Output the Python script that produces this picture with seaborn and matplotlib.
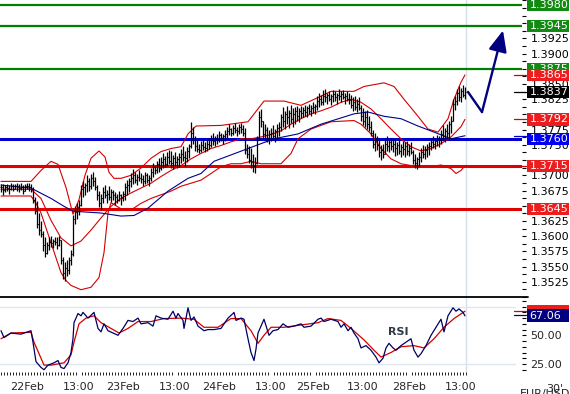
import numpy as np
import matplotlib
matplotlib.use("Agg")
import matplotlib.pyplot as plt
import seaborn as sns
from matplotlib.transforms import blended_transform_factory
from matplotlib.patches import Rectangle
from matplotlib.lines import Line2D

sns.set_theme(style="white")
plt.rcParams["font.family"] = ["DejaVu Sans"]

# ---------------- data (30-minute EUR/USD bars, values in pips above 1.3000) ----------------
bar_high = [686,685,684,686,684,687,685,686,688,685,687,684,686,688,687,686,
            680,664,658,638,625,608,598,590,
            598,600,596,599,598,600,
            594,565,558,560,566,578,
            634,650,655,660,
            684,690,688,700,696,702,706,698,
            684,675,670,
            680,684,676,682,678,676,
            672,670,674,670,675,
            688,692,696,
            704,710,706,702,708,704,700,706,703,700,
            712,720,716,724,728,
            730,736,732,738,742,740,734,738,732,736,
            744,748,740,746,752,
            788,780,
            764,758,752,756,760,754,758,762,
            766,770,764,768,772,770,768,774,
            780,784,778,782,786,780,784,786,782,
            778,752,748,745,735,730,
            765,805,809,
            790,785,780,775,778,782,776,785,788,
            800,812,806,814,808,815,810,812,814,810,
            814,812,816,814,818,815,820,818,
            830,836,832,840,842,835,838,834,840,838,836,842,838,840,836,838,835,
            832,828,830,825,828,
            815,810,805,808,798,790,
            775,770,765,760,750,752,
            760,764,758,762,760,
            758,755,758,752,756,754,756,752,755,
            742,735,730,738,
            745,750,748,752,755,
            762,765,760,766,764,
            775,782,778,784,
            790,798,
            825,830,
            842,846,844,848,845]
bar_low = [672,668,673,675,670,676,674,677,675,673,676,669,674,677,675,673,
           655,636,613,602,598,575,565,570,
           578,582,580,585,579,583,
           555,530,527,535,538,552,
           568,620,628,635,
           650,665,668,672,675,678,682,676,
           660,648,643,
           655,662,655,660,656,660,
           652,655,658,652,657,
           660,668,672,
           680,685,688,684,690,688,682,686,688,683,
           690,698,702,704,706,
           708,712,714,716,718,712,710,716,712,714,
           720,724,715,722,728,
           745,752,
           740,738,736,738,742,738,740,744,
           746,750,748,752,754,756,752,756,
           762,766,764,766,770,764,768,770,764,
           735,728,720,712,705,703,
           718,760,780,
           760,758,755,752,756,758,754,760,764,
           772,780,776,784,778,786,780,785,790,788,
           794,795,797,795,800,798,802,800,
           808,812,815,816,820,818,822,815,820,822,818,824,820,825,818,822,818,
           810,806,808,804,808,
           790,782,780,776,772,764,
           745,740,742,730,725,728,
           735,740,738,742,738,
           732,734,735,730,734,730,733,732,735,
           718,712,710,716,
           722,728,726,730,734,
           742,745,744,748,746,
           752,758,755,760,
           758,770,
           790,808,
           815,822,820,828,826]
bar_close = [680,676,681,679,677,682,678,683,680,679,681,675,682,683,680,678,
             660,642,620,610,604,585,572,585,
             590,588,592,590,586,594,
             560,540,548,545,560,570,
             628,640,648,652,
             678,680,684,690,682,695,690,680,
             668,655,662,
             672,668,670,664,673,668,
             665,660,668,662,670,
             680,684,690,
             695,700,692,698,696,694,690,700,692,696,
             706,714,708,718,712,
             722,726,718,730,724,720,728,722,726,730,
             735,730,728,740,748,
             770,758,
             748,744,742,750,746,745,752,750,
             758,756,760,758,766,762,764,768,
             772,776,770,778,774,772,780,776,770,
             742,735,725,722,715,720,
             758,795,790,
             768,775,762,768,770,765,772,778,780,
             795,790,800,795,802,792,800,805,798,806,
             802,808,804,810,806,810,812,814,
             822,826,820,830,828,832,826,830,834,828,832,830,834,828,830,826,824,
             815,820,812,818,810,
             798,790,795,784,780,770,
             752,758,750,738,742,735,
             752,748,755,748,752,
             745,750,740,746,744,748,740,745,738,
             725,720,726,730,
             738,735,742,746,748,
             755,752,756,760,758,
             768,765,772,770,
             785,790,
             818,822,
             835,828,838,832,837]

# Bollinger bands (upper / middle / lower) and slow moving average, read at bar positions
ub_x = [0,15,20,25,28.5,32.5,36,39,42,45,49,52,54,56.5,60,65,70,75,80,85,90,93.5,97.5,110,123.5,
        131.5,141.5,150,160,165,176.5,181.5,191.5,196.5,201.5,208.5,213.5,218.5,223.5,226.5,230,232]
ub_v = [690,690,708,723,718,680,636,660,700,728,740,730,705,695,695,700,712,728,739,744,747,768,781,782,788,
        822,822,815,830,838,838,846,852,846,825,797,776,771,793,825,853,865]
mb_x = [0,15,20,25,30,35,40,45,50,55,60,65,70,75,80,85,90,95,100,105,110,115,120,125,130,135,
        140,145,150,155,160,165,170,175,180,185,190,195,200,205,210,215,220,225,230,232]
mb_v = [677,677,662,626,597,584,592,610,630,649,662,671,679,687,698,708,716,727,736,744,749,755,760,760,763,767,
        773,784,793,801,806,812,820,825,820,809,793,776,760,747,740,744,752,763,780,792]
lb_x = [0,15,17.5,20,25,30,32.5,35,40,45,49,51.5,53.5,55,60,65,70,75,80,85,90,95,100,105,110,115,
        120,125,130,135,140,145,148.5,155,165,176.5,180,185,190,195,200,205,210,215,220,225,227.5,230,232]
lb_v = [666,666,654,638,589,540,527,519,512,516,532,573,638,655,645,643,654,662,668,674,682,687,692,703,714,719,
        719,723,719,719,719,736,760,776,788,790,784,768,744,727,719,716,714,714,717,711,703,708,716]
ma_x = [0,15,25,31.5,36,50,60,66.5,73.5,83.5,93.5,100,106.5,123.5,136.5,148.5,160,176.5,183.5,191.5,
        200,208.5,216.5,225,232]
ma_v = [684,679,662,649,641,638,633,634,646,674,695,703,723,744,760,768,784,801,804,797,
        793,781,771,760,765]

# RSI and its moving average
rsi_x = [0,1.5,5,10,15,16,17.5,20,21.5,23.5,26.5,28.5,30,31.5,33.5,35,36,36.5,38.5,40,41,43.5,46.5,48.5,
         50,51.5,53.5,56,58.5,61,63.5,66,68.5,70,73.5,76,77.5,80,83.5,86,87.5,88.5,91,91.5,92.5,93.5,95,
         96.5,98.5,100,101.5,103.5,106.5,110,113.5,116,116.5,117.5,120,121.5,123.5,125,126.5,127.5,128.5,
         130,131.5,134,136,138.5,141,143.5,146.5,150,151.5,155,158.5,160,161.5,165,168.5,170,171.5,173.5,
         175,176.5,178.5,180,182.5,185,187.5,189,191,192.5,194,196,197.5,200,202.5,205,206.5,208.5,210,
         212.5,215,217.5,220,221.5,223.5,226,227.5,229,231,232]
rsi_v = [54,48,52,51,54,44,27,22,20,24,26,28,22,21,26,35,47,61,69,67,70,65,70,56,
         53,60,54,52,50,56,63,62,65,60,61,58,67,65,64,71,65,69,63,56,65,74,63,
         66,58,56,54,55,55,56,65,69,70,63,65,64,47,35,28,38,52,
         58,64,50,54,55,60,57,58,60,57,58,64,65,62,64,62,57,60,54,
         57,52,47,39,41,37,31,26,30,39,43,39,37,41,44,47,37,31,34,
         41,50,57,64,53,67,74,71,73,70,67]
rsima_x = [0,5,15,16.5,19,21.5,25,31.5,35,36.5,39,42.5,46.5,50,55,59,63.5,68.5,75,81.5,90,96.5,101.5,
           108.5,115,120,125,128.5,131.5,135,141.5,150,158.5,163.5,170,175,181.5,186.5,190,195,200,206.5,
           211.5,216.5,221.5,226.5,232]
rsima_v = [47,52,52.6,44,34,24,24,26,33,44,60,65,67,61,56,52,56,62,62,64.6,65,64,57,
           57,64.6,64.6,54,43,50,57,57,59,61,64.6,63,56,46,37,31,35,40,41,
           39,47,57,64.6,71]

green_levels = [1.3980, 1.3945, 1.3875]
blue_levels = [1.3760]
red_levels = [1.3715, 1.3645]

date_pos = [13, 39, 61, 87, 109, 135, 156, 181, 204, 230]
date_lbl = ["22Feb", "13:00", "23Feb", "13:00", "24Feb", "13:00", "25Feb", "13:00", "28Feb", "13:00"]

forecast_x = [233.5, 240.5, 251]
forecast_v = [1.3837, 1.3804, 1.3938]


def px(v):
    return 1.3 + np.asarray(v, dtype=float) / 1e4


# ---------------- figure ----------------
W, H = 570, 394
fig = plt.figure(figsize=(W / 100, H / 100), dpi=100)
fig.patch.set_facecolor("white")
ax = fig.add_axes([0, (H - 297) / H, 522 / W, 297 / H])
ax2 = fig.add_axes([0, (H - 372) / H, 522 / W, 75 / H])

RED = "#d40000"
NAVY = "#000080"

n = len(bar_close)
idx = np.arange(n)
hi, lo, cl = px(bar_high), px(bar_low), px(bar_close)
op = np.r_[cl[0], cl[:-1]]

# levels
for lv in green_levels:
    ax.axhline(lv, color="#008000", lw=1.6, zorder=2)
for lv in blue_levels:
    ax.axhline(lv, color="#0000cc", lw=2.2, zorder=2)
for lv in red_levels:
    ax.axhline(lv, color="#e00000", lw=2.2, zorder=2)

ax.axvline(232.5, color="#d6e0e8", lw=1, zorder=0)
ax2.axvline(232.5, color="#d6e0e8", lw=1, zorder=0)

# indicators
for xs, vs, col in [(ub_x, ub_v, RED), (mb_x, mb_v, RED), (lb_x, lb_v, RED), (ma_x, ma_v, "#00008b")]:
    sns.lineplot(x=np.asarray(xs, float), y=px(vs), ax=ax, color=col, lw=0.8,
                 estimator=None, sort=False, legend=False, zorder=3)

# OHLC bars
ax.vlines(idx, lo, hi, color="black", lw=0.9, zorder=4)
ax.hlines(op, idx - 0.7, idx, color="black", lw=0.8, zorder=4)
ax.hlines(cl, idx, idx + 0.7, color="black", lw=0.8, zorder=4)

# forecast arrow
ax.plot(forecast_x[:2], forecast_v[:2], color=NAVY, lw=1.7, solid_capstyle="round", zorder=5)
ax.annotate("", xy=(forecast_x[2], forecast_v[2]), xytext=(forecast_x[1], forecast_v[1]),
            arrowprops=dict(arrowstyle="-|>,head_length=0.8,head_width=0.35", color=NAVY, lw=1.7,
                            shrinkA=0, shrinkB=0, mutation_scale=16),
            annotation_clip=False, zorder=5)

ax.set_xlim(-0.5, 260.5)
ax.set_ylim(1.35051, 1.39881)
ax.set_xlabel("")
ax.set_ylabel("")
for s in ax.spines.values():
    s.set_visible(False)
ax.yaxis.tick_right()
maj = np.arange(1.3500, 1.3990, 0.0025)
hidden = {"1.3500", "1.3650", "1.3725", "1.3800", "1.3875", "1.3950", "1.3975"}
ax.set_yticks(maj)
ax.set_yticklabels(["" if f"{v:.4f}" in hidden else f"{v:.4f}" for v in maj])
ax.set_yticks(maj + 0.00125, minor=True)
ax.tick_params(axis="y", which="both", direction="out", length=3, width=0.8, color="black",
               labelsize=8, pad=3, labelcolor="black", right=True, left=False)
ax.tick_params(axis="x", which="both", bottom=False, labelbottom=False)

# right-margin markers for indicator ends
trp = blended_transform_factory(fig.transFigure, ax.transData)
for v, col in [(ub_v[-1], RED), (bar_close[-1], "black"), (mb_v[-1], RED), (ma_v[-1], "#0000cc"),
               (lb_v[-1], RED)]:
    ax.plot([514 / W, 526 / W], [px(v), px(v)], color=col, lw=0.9, transform=trp, clip_on=False, zorder=6)

bh = 12.5 / 6149.0
zc = [20]


def box(axis, tr, val, text, col, h):
    zc[0] += 2
    axis.add_patch(Rectangle((527 / W, val - h / 2), 42 / W, h, transform=tr, facecolor=col,
                             edgecolor="none", clip_on=False, zorder=zc[0]))
    if text:
        axis.text(529.5 / W, val, text, transform=tr, color="white", fontsize=8, va="center",
                  ha="left", clip_on=False, zorder=zc[0] + 1)


for lv in green_levels:
    box(ax, trp, lv, f"{lv:.4f}", "#118a11", bh)
box(ax, trp, px(ub_v[-1]), f"{px(ub_v[-1]):.4f}", "#ee1c1c", bh)
box(ax, trp, cl[-1], f"{cl[-1]:.4f}", "black", bh)
box(ax, trp, px(mb_v[-1]), f"{px(mb_v[-1]):.4f}", "#ee1c1c", bh)
for lv in blue_levels:
    box(ax, trp, lv, f"{lv:.4f}", "#0000ee", bh)
for lv in red_levels:
    box(ax, trp, lv, f"{lv:.4f}", "#ee1c1c", bh)

# ---------------- RSI panel ----------------
ax2.plot([-0.5, 257], [75, 75], color="#dde6ee", lw=1, zorder=0)
ax2.plot([-0.5, 257], [25, 25], color="#dde6ee", lw=1, zorder=0)
sns.lineplot(x=np.asarray(rsima_x, float), y=np.asarray(rsima_v, float), ax=ax2, color=RED, lw=0.9,
             estimator=None, sort=False, legend=False, zorder=3)
sns.lineplot(x=np.asarray(rsi_x, float), y=np.asarray(rsi_v, float), ax=ax2, color="#000066", lw=0.9,
             estimator=None, sort=False, legend=False, zorder=4)
ax2.text(198.5, 52.6, "RSI", fontsize=8, fontweight="bold", color="#2e3a44", ha="center", va="center")

ax2.set_xlim(-0.5, 260.5)
ax2.set_ylim(18.0, 83.4)
ax2.set_xlabel("")
ax2.set_ylabel("")
for k, s in ax2.spines.items():
    s.set_visible(False)
ax2.yaxis.tick_right()
ax2.set_yticks([25, 50, 75])
ax2.set_yticklabels(["25.00", "50.00", ""])
ax2.set_yticks(np.arange(20, 85, 5), minor=True)
ax2.tick_params(axis="y", which="both", direction="out", length=3, width=0.8, color="black",
                labelsize=8, pad=3, right=True, left=False)
ax2.set_xticks(date_pos)
ax2.set_xticklabels(date_lbl)
ax2.set_xticks(np.arange(0, 233, 1.5), minor=True)
ax2.tick_params(axis="x", which="major", length=0, labelsize=8, pad=7.5, bottom=True)
ax2.tick_params(axis="x", which="minor", length=2.5, width=0.6, color="black", direction="out", bottom=True)

# panel separator
fig.add_artist(Line2D([0, 528 / W], [(H - 297) / H, (H - 297) / H], color="black", lw=1.3,
                      transform=fig.transFigure))

trr = blended_transform_factory(fig.transFigure, ax2.transData)
ax2.plot([514 / W, 526 / W], [rsima_v[-1], rsima_v[-1]], color=RED, lw=0.9, transform=trr, clip_on=False)
ax2.plot([514 / W, 526 / W], [rsi_v[-1] + 1, rsi_v[-1] + 1], color=NAVY, lw=0.9, transform=trr, clip_on=False)
rh = 13 / 1.148
box(ax2, trr, 71.0, "", "#ee1c1c", rh)
box(ax2, trr, 67.06, "67.06", "#000080", rh)

fig.text(546 / W, 1 - 384 / H, "30'", fontsize=8, va="top", ha="left")
fig.text(520 / W, 1 - 389 / H, "EUR/USD", fontsize=8, va="top", ha="left")

fig.savefig("out.png", dpi=100, facecolor="white")
